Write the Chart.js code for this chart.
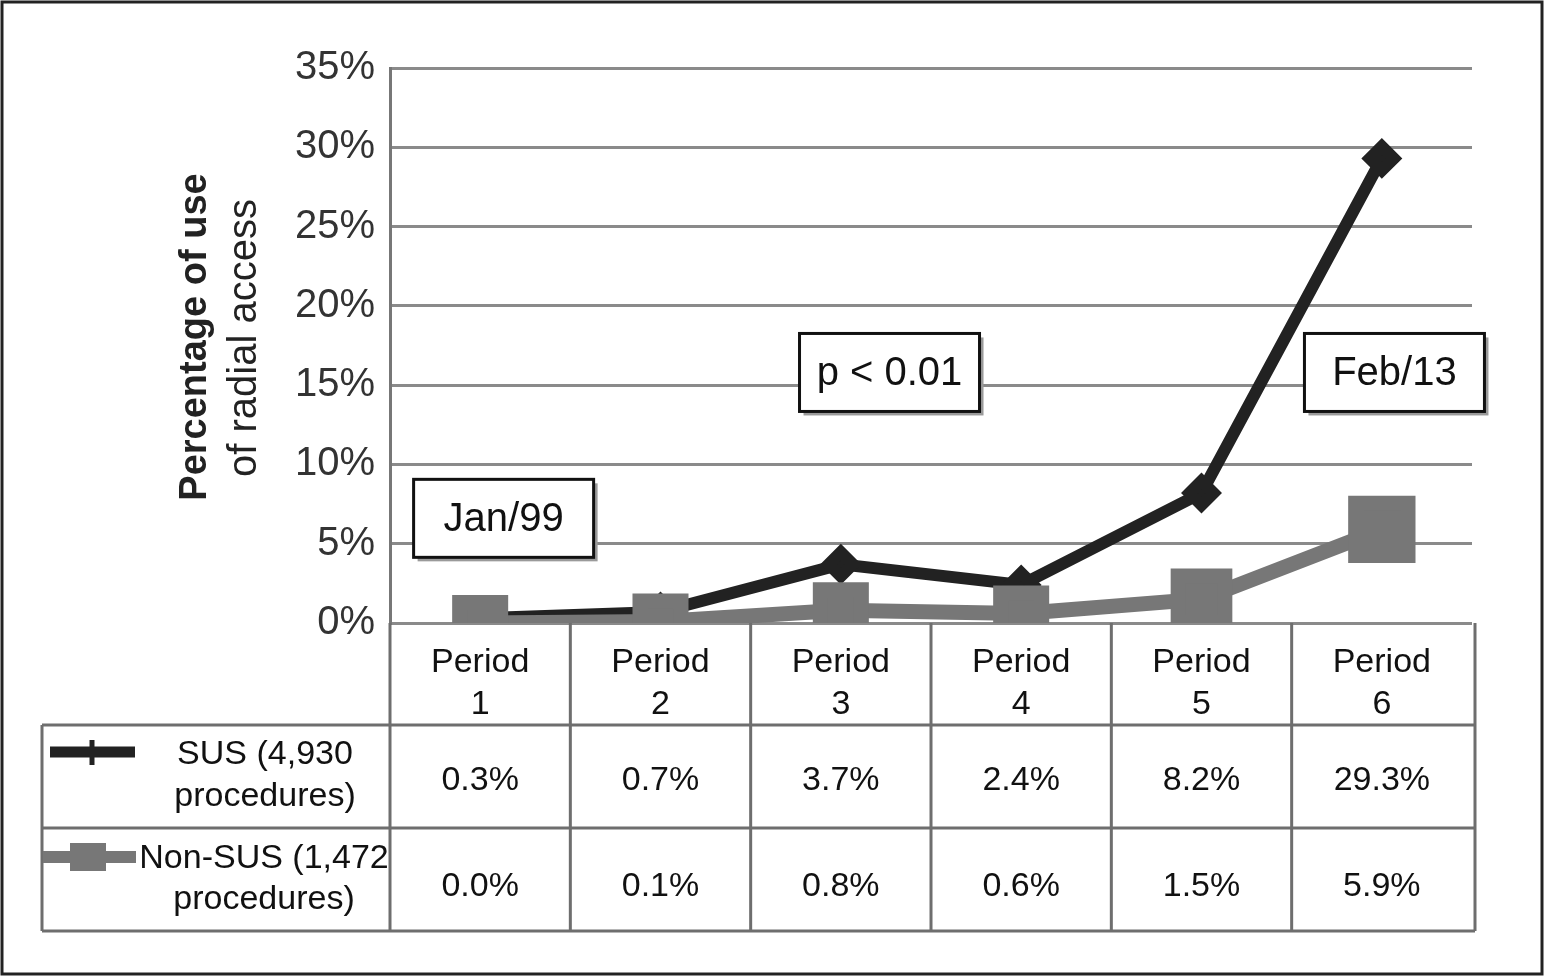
<!DOCTYPE html>
<html>
<head>
<meta charset="utf-8">
<script src="https://cdn.jsdelivr.net/npm/chart.js@4.4.0/dist/chart.umd.min.js"></script>
<style>
  html, body { margin: 0; padding: 0; background: #fff; }
</style>
</head>
<body>
<canvas id="chart" width="1544" height="976"></canvas>
<script>
// Data
const periods = [['Period', '1'], ['Period', '2'], ['Period', '3'], ['Period', '4'], ['Period', '5'], ['Period', '6']];
const susValues = [0.3, 0.7, 3.7, 2.4, 8.2, 29.3];
const nonSusValues = [0.0, 0.1, 0.8, 0.6, 1.5, 5.9];
const seriesNames = [['SUS (4,930', 'procedures)'], ['Non-SUS (1,472', 'procedures)']];
const yTitle = ['Percentage of use', 'of radial access'];
const notes = ['Jan/99', 'p < 0.01', 'Feb/13'];
const noteX = [0.13, 2.27, 5.07];   // category position
const noteY = [6.6, 15.8, 15.8];    // percent

const FONT = '"Liberation Sans", Arial, sans-serif';
const SUS_COLOR = '#222';
const NON_COLOR = '#777';
const LINE_COLOR = '#6e6e6e';

// table rows below the chart area
const headerH = 102;
const rowH = 103;
const tableLeft = 42;

const tablePlugin = {
  id: 'table',
  beforeDatasetsDraw(chart) {
    const { ctx, chartArea } = chart;
    const x = chart.scales.x;
    const top = chartArea.bottom;
    const r1 = top + headerH, r2 = r1 + rowH, r3 = r2 + rowH;
    const right = chartArea.right + 3;

    ctx.save();
    ctx.strokeStyle = LINE_COLOR;
    ctx.lineWidth = 3;
    ctx.beginPath();
    [r1, r2, r3].forEach(y => { ctx.moveTo(tableLeft, y); ctx.lineTo(right, y); });
    ctx.moveTo(tableLeft, r1); ctx.lineTo(tableLeft, r3);
    ctx.moveTo(chartArea.left, top); ctx.lineTo(chartArea.left, r3);
    ctx.moveTo(right, top); ctx.lineTo(right, r3);
    for (let i = 0; i < periods.length - 1; i++) {
      const bx = (x.getPixelForValue(i) + x.getPixelForValue(i + 1)) / 2;
      ctx.moveTo(bx, top); ctx.lineTo(bx, r3);
    }
    ctx.stroke();

    // values
    ctx.fillStyle = '#111';
    ctx.font = '34px ' + FONT;
    ctx.textAlign = 'center';
    ctx.textBaseline = 'middle';
    for (let i = 0; i < periods.length; i++) {
      const cx = x.getPixelForValue(i);
      ctx.fillText(susValues[i].toFixed(1) + '%', cx, r1 + 56);
      ctx.fillText(nonSusValues[i].toFixed(1) + '%', cx, r2 + 59);
    }

    // legend cells
    ctx.fillText(seriesNames[0][0], 265, r1 + 30);
    ctx.fillText(seriesNames[0][1], 265, r1 + 72);
    ctx.fillText(seriesNames[1][0], 264, r2 + 31);
    ctx.fillText(seriesNames[1][1], 264, r2 + 72);

    // SUS icon
    ctx.strokeStyle = SUS_COLOR;
    ctx.lineWidth = 11;
    ctx.beginPath();
    ctx.moveTo(50, r1 + 27); ctx.lineTo(135, r1 + 27);
    ctx.stroke();
    ctx.lineWidth = 5;
    ctx.beginPath();
    ctx.moveTo(92, r1 + 15); ctx.lineTo(92, r1 + 40);
    ctx.stroke();

    // Non-SUS icon
    ctx.strokeStyle = NON_COLOR;
    ctx.lineWidth = 12;
    ctx.beginPath();
    ctx.moveTo(43, r2 + 29); ctx.lineTo(136, r2 + 29);
    ctx.stroke();
    ctx.fillStyle = NON_COLOR;
    ctx.fillRect(70, r2 + 15, 36, 28);

    // axis title
    ctx.fillStyle = '#222';
    ctx.save();
    ctx.translate(196, 337);
    ctx.rotate(-Math.PI / 2);
    ctx.font = 'bold 38px ' + FONT;
    ctx.fillText(yTitle[0], 0, 0);
    ctx.restore();
    ctx.save();
    ctx.translate(245, 338);
    ctx.rotate(-Math.PI / 2);
    ctx.font = '40px ' + FONT;
    ctx.fillText(yTitle[1], 0, 0);
    ctx.restore();

    // outer frame
    ctx.strokeStyle = '#222';
    ctx.lineWidth = 3;
    ctx.strokeRect(2, 2, chart.width - 4, chart.height - 4);
    ctx.restore();
  },
  afterDatasetsDraw(chart) {
    const { ctx } = chart;
    const x = chart.scales.x, y = chart.scales.y;
    ctx.save();
    ctx.font = '40px ' + FONT;
    ctx.textAlign = 'center';
    ctx.textBaseline = 'middle';
    notes.forEach((t, i) => {
      const cx = x.getPixelForValue(noteX[i]);
      const cy = y.getPixelForValue(noteY[i]);
      const w = 180, h = 78;
      ctx.fillStyle = '#9a9a9a';
      ctx.fillRect(cx - w / 2 + 4, cy - h / 2 + 4, w, h);
      ctx.fillStyle = '#fff';
      ctx.fillRect(cx - w / 2, cy - h / 2, w, h);
      ctx.strokeStyle = '#111';
      ctx.lineWidth = 3;
      ctx.strokeRect(cx - w / 2, cy - h / 2, w, h);
      ctx.fillStyle = '#111';
      ctx.fillText(t, cx, cy + 2);
    });
    ctx.restore();
  }
};

new Chart(document.getElementById('chart'), {
  type: 'line',
  data: {
    labels: periods,
    datasets: [
      {
        label: 'SUS',
        data: susValues,
        borderColor: SUS_COLOR,
        backgroundColor: SUS_COLOR,
        borderWidth: 12,
        pointStyle: 'rectRot',
        pointRadius: 12,
        tension: 0,
        order: 1
      },
      {
        label: 'Non-SUS',
        data: nonSusValues,
        borderColor: NON_COLOR,
        backgroundColor: NON_COLOR,
        borderWidth: 15,
        pointStyle: 'rect',
        pointRadius: [29, 29, 29, 29, 33, 37],
        tension: 0,
        order: 0
      }
    ]
  },
  options: {
    responsive: false,
    animation: false,
    devicePixelRatio: 1,
    layout: { padding: { left: 0, top: 68, right: 72, bottom: 46 } },
    plugins: { legend: { display: false }, tooltip: { enabled: false } },
    scales: {
      x: {
        offset: true,
        grid: { display: false },
        border: { display: false },
        ticks: {
          color: '#111',
          font: { family: FONT, size: 34, lineHeight: 1.25 },
          padding: 10,
          maxRotation: 0,
          autoSkip: false
        },
        afterFit: s => { s.height = 307; }
      },
      y: {
        min: 0,
        max: 35,
        ticks: {
          stepSize: 5,
          color: '#333',
          padding: 15,
          font: { family: FONT, size: 40 },
          callback: v => v + '%'
        },
        grid: { color: '#8a8a8a', lineWidth: 3, drawTicks: false },
        border: { display: true, color: '#777', width: 3 },
        afterFit: s => { s.width = 390; }
      }
    }
  },
  plugins: [tablePlugin]
});
</script>
</body>
</html>
